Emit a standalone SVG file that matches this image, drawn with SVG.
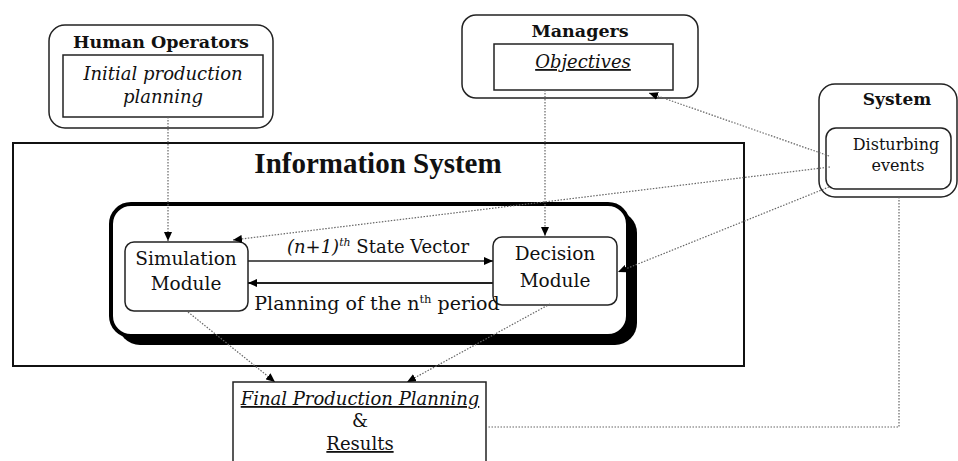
<svg xmlns="http://www.w3.org/2000/svg" width="958" height="461" viewBox="0 0 958 461">
<defs>
<marker id="ah" markerWidth="9" markerHeight="8" refX="9" refY="4" orient="auto" markerUnits="userSpaceOnUse">
<path d="M0,0 L9,4 L0,8 z" fill="#000"/>
</marker>
<style>
.pal{font-family:"DejaVu Serif","Liberation Serif",serif;fill:#111;}
.b{font-weight:bold;}
.i{font-style:italic;}
.u{text-decoration:underline;}
.box{fill:#fff;stroke:#222;stroke-width:1.5;}
.dot{fill:none;stroke:#666;stroke-width:1.2;stroke-dasharray:1.5 1.5;}
.solid{fill:none;stroke:#222;}
</style>
</defs>
<rect width="958" height="461" fill="#fff"/>

<g id="information-system">
<rect x="13" y="143" width="731" height="223" fill="#fff" stroke="#111" stroke-width="2"/>
<text x="378" y="173" text-anchor="middle" style="font-family:'Liberation Serif',serif;font-weight:bold;font-size:29px;fill:#111">Information System</text>
<rect x="118" y="211" width="519" height="134" rx="22" fill="#000"/>
<rect x="111" y="204" width="517" height="132" rx="20" fill="#fff" stroke="#000" stroke-width="4"/>
</g>

<g id="human-operators">
<rect x="49" y="25" width="224" height="103" rx="16" class="box"/>
<text x="161" y="48" text-anchor="middle" class="pal b" font-size="17.5">Human Operators</text>
<rect x="63" y="55" width="200" height="62" class="box"/>
<text x="163" y="80" text-anchor="middle" class="pal i" font-size="18">Initial production</text>
<text x="163" y="103" text-anchor="middle" class="pal i" font-size="18">planning</text>
</g>

<g id="managers">
<rect x="462" y="15" width="236" height="83" rx="14" class="box"/>
<text x="580" y="37" text-anchor="middle" class="pal b" font-size="17.5">Managers</text>
<rect x="494" y="44" width="179" height="46" class="box"/>
<text x="583" y="68" text-anchor="middle" class="pal i u" font-size="18">Objectives</text>
</g>

<g id="system">
<rect x="819" y="84" width="138" height="113" rx="16" class="box"/>
<text x="897" y="105" text-anchor="middle" class="pal b" font-size="17">System</text>
<rect x="826" y="128" width="125" height="61" rx="10" class="box"/>
<text x="896" y="150" text-anchor="middle" class="pal" font-size="16">Disturbing</text>
<text x="898" y="171" text-anchor="middle" class="pal" font-size="16">events</text>
</g>

<g id="simulation-module">
<rect x="125" y="242" width="123" height="69" rx="9" class="box"/>
<text x="186" y="265" text-anchor="middle" class="pal" font-size="18.5">Simulation</text>
<text x="186" y="290" text-anchor="middle" class="pal" font-size="18.5">Module</text>
</g>

<g id="decision-module">
<rect x="493" y="237" width="124" height="68" rx="9" class="box"/>
<text x="555" y="260" text-anchor="middle" class="pal" font-size="18.5">Decision</text>
<text x="555" y="287" text-anchor="middle" class="pal" font-size="18.5">Module</text>
</g>

<g id="final-production-planning">
<rect x="233" y="382" width="253" height="95" class="box"/>
<text x="360" y="405" text-anchor="middle" class="pal i u" font-size="18">Final Production Planning</text>
<text x="360" y="427" text-anchor="middle" class="pal" font-size="18">&amp;</text>
<text x="360" y="450" text-anchor="middle" class="pal u" font-size="18">Results</text>
</g>

<g id="connectors">
<path d="M168,117 V241" class="dot" marker-end="url(#ah)"/>
<path d="M545,90 V236" class="dot" marker-end="url(#ah)"/>
<path d="M829,156 L649,93" class="dot" marker-end="url(#ah)"/>
<path d="M830,167 L233,240" class="dot" marker-end="url(#ah)"/>
<path d="M829,187 L618,272" class="dot" marker-end="url(#ah)"/>
<path d="M188,312 L275,382" class="dot" marker-end="url(#ah)"/>
<path d="M550,304 L407,382" class="dot" marker-end="url(#ah)"/>
<path d="M899,197 V427 H487" class="dot"/>
<path d="M248,261 H493" class="solid" stroke-width="1.5" marker-end="url(#ah)"/>
<path d="M493,283 H248" class="solid" stroke-width="2" marker-end="url(#ah)"/>
<text x="378" y="253" text-anchor="middle" class="pal" font-size="18"><tspan font-style="italic">(n+1)</tspan><tspan font-style="italic" font-size="11" dy="-7">th</tspan><tspan dy="7"> State Vector</tspan></text>
<text x="377" y="310" text-anchor="middle" class="pal" font-size="19">Planning of the n<tspan font-size="11.5" dy="-7">th</tspan><tspan dy="7"> period</tspan></text>
</g>
</svg>
